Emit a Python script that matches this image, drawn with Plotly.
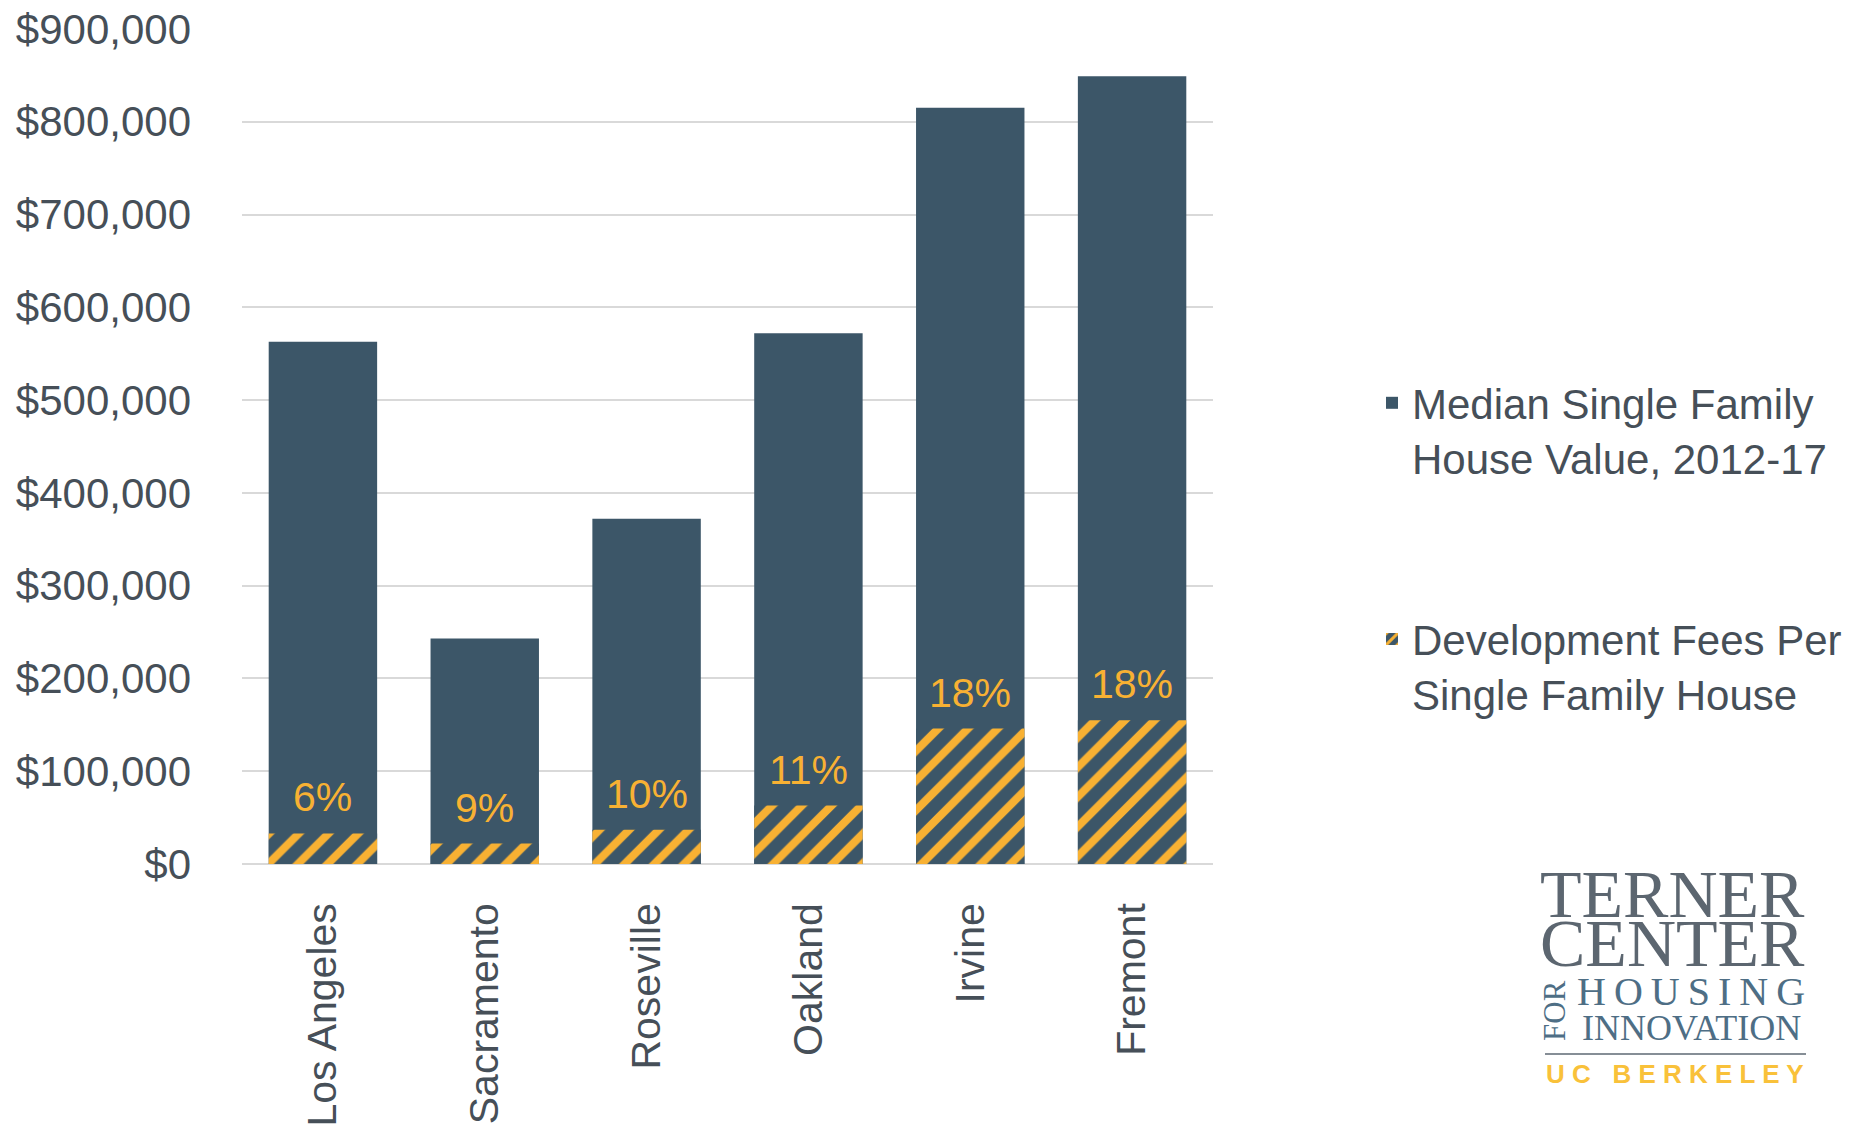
import plotly.graph_objects as go

# ---- data ----
cities = ["Los Angeles", "Sacramento", "Roseville", "Oakland", "Irvine", "Fremont"]
median_value = [563000, 243000, 372000, 572000, 815000, 849000]
dev_fees = [33000, 22000, 37000, 63000, 146000, 155000]
fee_pct_labels = ["6%", "9%", "10%", "11%", "18%", "18%"]
series_names = ["Median Single Family<br>House Value, 2012-17",
                "Development Fees Per<br>Single Family House"]

# ---- style / layout (page pixel coordinates; body margin is 8px) ----
OFF = 8
W, H = 1864 - 2 * OFF, 1137 - 2 * OFF
PL, PR, PT, PB = 242, 1213, 29, 864          # plot area on the page
ML, MT = PL - OFF, PT - OFF
MR, MB = W - (PR - OFF), H - (PB - OFF)
PW, PH = PR - PL, PB - PT
DARK = "#3C5668"
ORANGE = "#F8B133"
TEXT = "#464F58"
GRID = "#D9D9D9"
FONT = "Liberation Sans, Arial, sans-serif"
SERIF = "Liberation Serif, Times New Roman, serif"


def px_x(x):
    return (x - PL) / PW


def px_y(y):
    return (PB - y) / PH


fig = go.Figure()
fig.add_trace(go.Bar(
    x=cities, y=median_value, name=series_names[0],
    marker=dict(color=DARK, line=dict(width=0)),
    legendgroup="a", hoverinfo="x+y",
))
fig.add_trace(go.Bar(
    x=cities, y=dev_fees, name=series_names[1],
    marker=dict(color=DARK, line=dict(width=0),
                pattern=dict(shape="/", fgcolor=ORANGE, bgcolor=DARK,
                             size=21, solidity=0.38, fillmode="replace")),
    legendgroup="b", hoverinfo="x+y",
))

for c, f, lab in zip(cities, dev_fees, fee_pct_labels):
    fig.add_annotation(x=c, y=f, text=lab, showarrow=False, yanchor="bottom",
                       yshift=11, font=dict(family=FONT, size=41, color=ORANGE))

# ---- logo (text) ----
logo = [
    ("TERNER", 1672, 894, 68, SERIF, "#5C6670", 0),
    ("CENTER", 1672, 943, 68, SERIF, "#5C6670", 0),
    ("H\u2009O\u2009U\u2009S\u2009I\u2009N\u2009G", 1691, 991, 40, SERIF, "#4E6E85", 0),
    ("INNOVATION", 1691, 1028, 36, SERIF, "#4E6E85", 0),
    ("FOR", 1554, 1011, 31, SERIF, "#4E6E85", -90),
    ("<b>U C\u00a0\u00a0\u00a0B E R K E L E Y</b>", 1675, 1074, 26, FONT, "#F9C13A", 0),
]
for txt, x, y, s, fam, col, ang in logo:
    fig.add_annotation(xref="paper", yref="paper", x=px_x(x), y=px_y(y),
                       text=txt, showarrow=False, xanchor="center", yanchor="middle",
                       textangle=ang, font=dict(family=fam, size=s, color=col))
fig.add_shape(type="line", xref="paper", yref="paper",
              x0=px_x(1545), x1=px_x(1806), y0=px_y(1054), y1=px_y(1054),
              line=dict(color="#868E96", width=2))

fig.update_layout(
    width=W, height=H,
    margin=dict(l=ML, r=MR, t=MT, b=MB, autoexpand=False),
    barmode="overlay", bargap=0.33,
    paper_bgcolor="white", plot_bgcolor="white",
    font=dict(family=FONT, size=42, color=TEXT),
    legend=dict(x=px_x(1372), y=px_y(369), xanchor="left", yanchor="top",
                traceorder="grouped", tracegroupgap=124, valign="top",
                font=dict(family=FONT, size=42, color=TEXT),
                itemwidth=30, bgcolor="rgba(0,0,0,0)"),
    showlegend=True,
)
fig.update_yaxes(range=[0, 900000], dtick=100000, tickprefix="$", tickformat=",d",
                 showgrid=True, gridcolor=GRID, gridwidth=2,
                 zeroline=True, zerolinecolor=GRID, zerolinewidth=2,
                 showline=False, ticks="", ticklabelstandoff=50,
                 ticklabeloverflow="allow",
                 tickfont=dict(family=FONT, size=42, color=TEXT))
fig.update_xaxes(tickangle=-90, showline=False, ticks="", ticklabelstandoff=30,
                 tickfont=dict(family=FONT, size=41, color=TEXT))

fig.write_html("out.html")
